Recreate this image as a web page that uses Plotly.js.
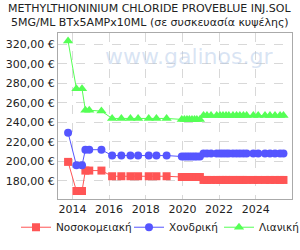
<!DOCTYPE html>
<html><head><meta charset="utf-8">
<script src="https://cdn.plot.ly/plotly-3.0.1.min.js"></script>
<style>html,body{margin:0;padding:0;background:#fff}#chart{width:300px;height:250px}</style>
</head><body><div id="chart"></div>
<script>
const titleLines = ["METHYLTHIONINIUM CHLORIDE PROVEBLUE INJ.SOL","5MG/ML BTx5AMPx10ML (σε συσκευασία κυψέλης)"];
const dates = ["2013-10-05","2014-03-20","2014-07-10","2014-09-15","2014-12-01","2015-08-01","2016-03-01","2016-09-01","2017-03-01","2017-08-01","2018-03-01","2018-08-01","2019-02-20",
"2019-12-20","2020-02-10","2020-04-01","2020-05-20","2020-07-10","2020-08-30","2020-10-15","2020-12-15",
"2021-02-25","2021-05-05","2021-07-25","2021-11-15","2022-01-20","2022-03-20","2022-05-20","2022-07-15",
"2022-10-05","2022-12-15","2023-02-20","2023-05-01","2023-07-05","2023-11-15","2024-02-20",
"2024-07-05","2024-10-12","2025-01-20","2025-05-01","2025-07-08"];
const hospital = [199.5,169.7,169.7,190.6,190.6,190.6,184.8,184.8,184.8,184.8,184.8,184.8,184.8,
184,184,184,184,184,184,184,184,
181,181,181,181,181,181,181,181,181,181,181,181,181,181,181,181,181,181,181,181];
const wholesale = [229.3,196,196,212,212,212,206,206,206,206,206,206,206,
205,205,205,205,205,205,205,205,
208,208,208,208,208,208,208,208,208,208,208,208,208,208,208,208,208,208,208,208];
const retail = [323.2,274.3,274.3,252.4,252.4,251.5,244,244,244,244,244,244,244,
243,243,243,243,243,243,243,243,
247,247,247,247,247,247,247,247,247,247,247,247,247,247,247,247,247,247,247,247];
const names = ["Νοσοκομειακή","Χονδρική","Λιανική"];
const yTicks = [180,200,220,240,260,280,300,320];
const yTickText = yTicks.map(v => v.toFixed(2).replace('.', ',') + ' €');
const xTicks = ["2014-01-01","2016-01-01","2018-01-01","2020-01-01","2022-01-01","2024-01-01"];
const xTickText = ["2014","2016","2018","2020","2022","2024"];

const traces = [
 {x:dates,y:hospital,name:names[0],legendwidth:68,mode:'lines+markers',line:{color:'#ff5555',width:1},marker:{symbol:'square',size:8,color:'#ff5555'}},
 {x:dates,y:wholesale,name:names[1],legendwidth:45,mode:'lines+markers',line:{color:'#5555ff',width:1},marker:{symbol:'circle',size:8,color:'#5555ff'}},
 {x:dates,y:retail,name:names[2],legendwidth:36,mode:'lines+markers',line:{color:'#55ff55',width:1},marker:{symbol:'triangle-up',size:9,color:'#55ff55'}}
];
const layout = {
 width:300,height:250,
 margin:{l:58,r:8,t:33,b:41},
 paper_bgcolor:'#fff',plot_bgcolor:'#fff',
 font:{family:'DejaVu Sans, sans-serif',size:10,color:'#222'},
 xaxis:{type:'date',range:['2013-03-18','2025-12-25'],tickvals:xTicks,ticktext:xTickText,showgrid:true,gridcolor:'#d8d8d8',griddash:'dash',showline:true,linecolor:'#aaa',mirror:true,ticks:'',zeroline:false,tickfont:{size:11}},
 yaxis:{range:[161.5,331.5],tickvals:yTicks,ticktext:yTickText,showgrid:true,gridcolor:'#d8d8d8',griddash:'dash',showline:true,linecolor:'#aaa',mirror:true,ticks:'',zeroline:false,tickfont:{size:11}},
 showlegend:true,
 legend:{orientation:'h',x:-0.14,xanchor:'left',y:-0.17,yanchor:'middle',font:{size:10.5},itemwidth:30,tracegroupgap:0,bgcolor:'rgba(0,0,0,0)',borderwidth:0},
 annotations:[
  {xref:'paper',yref:'paper',x:0.927,y:0.86,xanchor:'right',yanchor:'middle',text:'www.galinos.gr',showarrow:false,font:{size:22,color:'rgba(170,195,230,0.45)',family:'DejaVu Sans, sans-serif'}},
  {xref:'paper',yref:'paper',x:0.393,y:1.145,xanchor:'center',yanchor:'middle',text:titleLines[0],showarrow:false,font:{size:11,color:'#222'}},
  {xref:'paper',yref:'paper',x:0.393,y:1.065,xanchor:'center',yanchor:'middle',text:titleLines[1],showarrow:false,font:{size:11,color:'#222'}}
 ]
};
Plotly.newPlot('chart',traces,layout,{displayModeBar:false,staticPlot:true});
</script></body></html>
